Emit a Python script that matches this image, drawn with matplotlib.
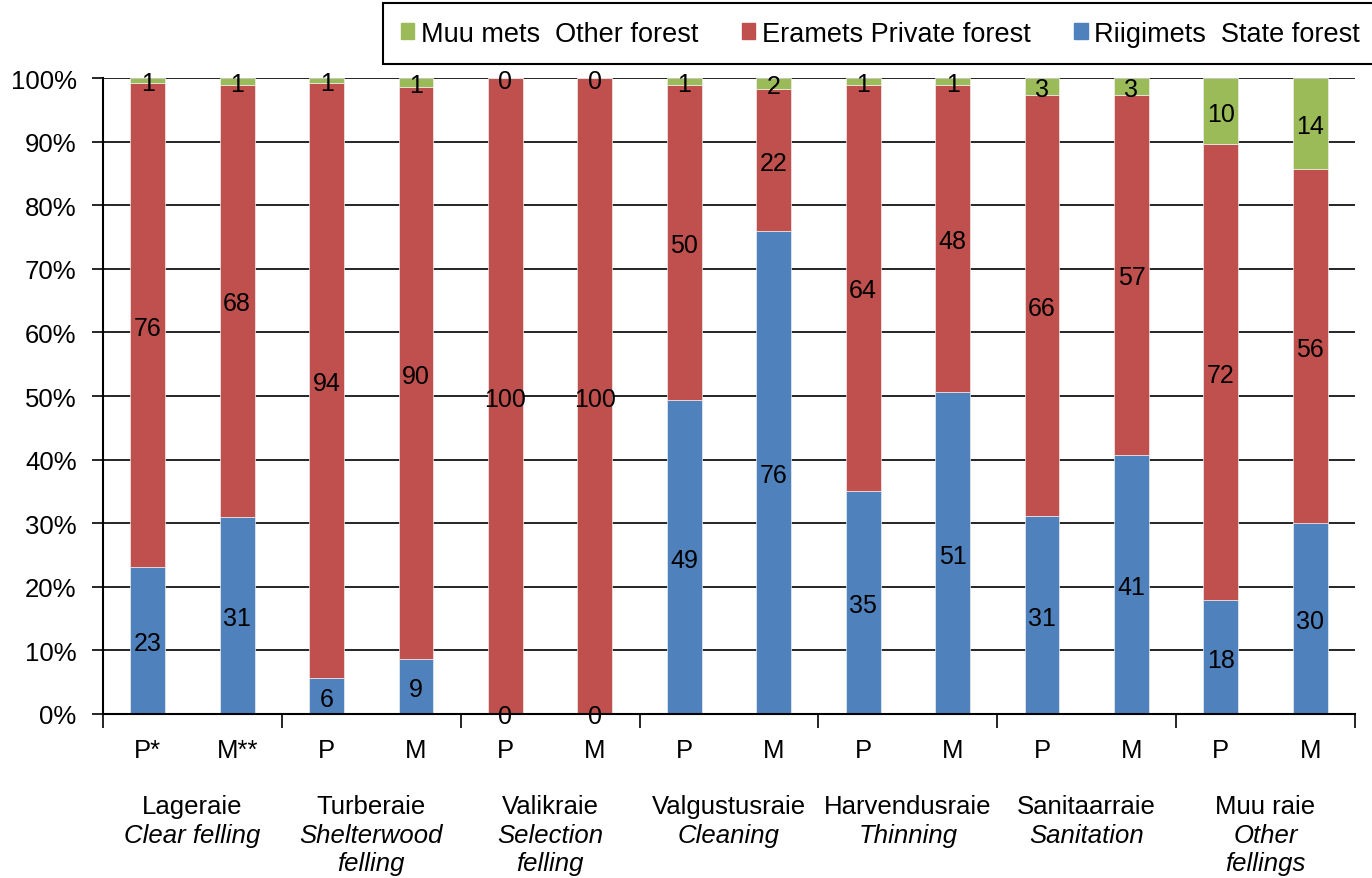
import numpy as np
import matplotlib.pyplot as plt
from matplotlib.patches import Patch
import matplotlib.transforms as mtransforms

plt.rcParams['font.family'] = ['Liberation Sans', 'DejaVu Sans']

# bar labels (P = protected / M = managed)
sub_labels = ["P*", "M**", "P", "M", "P", "M", "P", "M", "P", "M", "P", "M", "P", "M"]
group_et = ["Lageraie", "Turberaie", "Valikraie", "Valgustusraie", "Harvendusraie", "Sanitaarraie", "Muu raie"]
group_en = ["Clear felling", "Shelterwood\nfelling", "Selection\nfelling", "Cleaning", "Thinning",
            "Sanitation", "Other\nfellings"]

# shares in percent
state = [23.1, 31.0, 5.6, 8.6, 0.0, 0.0, 49.3, 75.9, 35.1, 50.6, 31.1, 40.8, 17.9, 30.0]
private = [76.1, 67.9, 93.6, 90.0, 100.0, 100.0, 49.6, 22.4, 63.8, 48.3, 66.2, 56.6, 71.7, 55.7]
other = [0.8, 1.1, 0.8, 1.4, 0.0, 0.0, 1.1, 1.7, 1.1, 1.1, 2.7, 2.6, 10.4, 14.3]

c_blue = '#4F81BD'
c_red = '#C0504D'
c_green = '#9BBB59'

fig = plt.figure(figsize=(13.72, 8.79), dpi=100)
ax = fig.add_axes([0.0751, 0.1866, 0.9125, 0.7235])

x = np.arange(len(sub_labels))
state = np.array(state)
private = np.array(private)
other = np.array(other)
w = 0.39

ax.set_axisbelow(True)
ax.yaxis.grid(True, color='black', linewidth=1.2)

series = [(state, np.zeros_like(state), c_blue),
          (private, state, c_red),
          (other, state + private, c_green)]
for vals, base, col in series:
    ax.bar(x, vals, w, bottom=base, color=col, edgecolor='#eeeeee', linewidth=0.5, zorder=2)
    for xi, v, b in zip(x, vals, base):
        ax.text(xi, b + v / 2, "%d" % round(v), ha='center', va='center_baseline',
                fontsize=18, zorder=3)

ax.set_xlim(-0.5, len(x) - 0.5)
ax.set_ylim(0, 100)
ax.set_yticks(np.arange(0, 101, 10))
ax.set_yticklabels(["%d%%" % v for v in range(0, 101, 10)], fontsize=18.5)
ax.tick_params(axis='y', length=8, width=1.2, pad=11)

ax.set_xticks(x)
ax.set_xticklabels(sub_labels, fontsize=18.5)
ax.tick_params(axis='x', which='major', length=0, pad=17)
ax.set_xticks(np.arange(-0.5, len(x), 2), minor=True)
ax.tick_params(axis='x', which='minor', length=10, width=1.2)

for s in ['top', 'right']:
    ax.spines[s].set_visible(False)
for s in ['left', 'bottom']:
    ax.spines[s].set_linewidth(1.5)

trans = mtransforms.blended_transform_factory(ax.transData, fig.transFigure)
for i, (et, en) in enumerate(zip(group_et, group_en)):
    cx = 2 * i + 0.5
    ax.text(cx, 1 - 807 / 879, et, transform=trans, ha='center', va='center', fontsize=18.5)
    ax.text(cx, 1 - 824 / 879, en, transform=trans, ha='center', va='top', fontsize=18.5,
            style='italic', linespacing=1.2)

handles = [Patch(color=c_green), Patch(color=c_red), Patch(color=c_blue)]
names = ["Muu mets  Other forest", "Eramets Private forest", "Riigimets  State forest"]
leg = fig.legend(handles, names, loc='upper left', bbox_to_anchor=(383 / 1372, 1 - 4 / 879), ncol=3,
                 fontsize=19.5, fancybox=False, edgecolor='black', framealpha=1,
                 handlelength=0.5, handleheight=0.5, handletextpad=0.25, columnspacing=1.6,
                 borderaxespad=0, borderpad=0.65)
leg.get_frame().set_linewidth(1.5)

plt.savefig('out.png', dpi=100)
